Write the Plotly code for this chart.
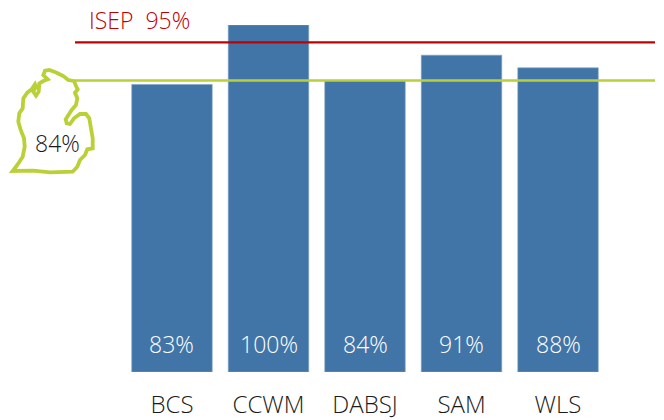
import plotly.graph_objects as go

categories = ["BCS", "CCWM", "DABSJ", "SAM", "WLS"]
values = [82.85, 100, 83.95, 91.3, 87.65]
value_labels = ["83%", "100%", "84%", "91%", "88%"]
state_value = 84
state_label = "84%"
isep_value = 95
isep_label = "ISEP  95%"

# decorative state outline, in reference pixels
michigan_outline = [
    (74, 81), (76, 86), (77.7, 89.3), (75, 92.7), (77.3, 98.3), (76, 105), (71.7, 110), (65.7, 119.3),
    (66.7, 123.3), (70, 124), (74, 118.3), (80, 114), (86, 114), (89.3, 118.3), (90.7, 126.7), (92.7, 138.3),
    (92.7, 148.3), (87.3, 149.3), (85, 155), (80, 160), (77.3, 166.7), (72.7, 171.7), (50, 172.3), (33.3, 170.7),
    (12.7, 171), (17.3, 165), (22.7, 156.7), (24.7, 146.7), (24, 138.3), (20.7, 130), (18.3, 121.7), (19.3, 113.3),
    (22.7, 108.3), (23.3, 98.3), (27.3, 92.7), (31.7, 89.3), (35, 84.3), (36, 86.7), (33.3, 91.7), (36, 95.7),
    (38.7, 91.7), (39.3, 83.3), (43.3, 81), (47.7, 79.3), (43.3, 75), (45, 70.7), (49.3, 70), (56.7, 72.7),
    (63.3, 76), (68.3, 80), (74, 81),
]

W, H = 664, 420
BAR_COLOR = "#4175A8"
RED = "#C00000"
GREEN = "#B9D036"
FONT = "Open Sans"
SIZE = 23

fig = go.Figure(go.Bar(
    x=categories, y=values, width=0.834,
    marker=dict(color=BAR_COLOR, line=dict(color="#7FA3C6", width=0.6)),
    hoverinfo="skip",
))

for cat, label in zip(categories, value_labels):
    fig.add_annotation(x=cat, y=0, yref="y", text=label, showarrow=False, yanchor="bottom", yshift=10,
                       font=dict(family=FONT, size=SIZE, color="#FFFFFF", weight=300))

x_paper = lambda px: px / W
y_paper = lambda py: (372 - py) / 347

fig.add_shape(type="line", xref="paper", yref="y", x0=x_paper(75), x1=x_paper(655), y0=isep_value, y1=isep_value,
              line=dict(color=RED, width=2.4))
fig.add_shape(type="line", xref="paper", yref="y", x0=x_paper(74), x1=x_paper(655), y0=state_value, y1=state_value,
              line=dict(color=GREEN, width=2.6))

path = "M " + " L ".join(f"{x_paper(a):.5f},{y_paper(b):.5f}" for a, b in michigan_outline)
fig.add_shape(type="path", xref="paper", yref="paper", path=path, line=dict(color=GREEN, width=3.8))

fig.add_annotation(xref="paper", yref="paper", x=x_paper(57.5), y=y_paper(143), xanchor="center", yanchor="middle",
                   text=state_label, showarrow=False,
                   font=dict(family=FONT, size=SIZE, color="#1A1A1A", weight=300))
fig.add_annotation(xref="paper", yref="paper", x=x_paper(139), y=y_paper(20), xanchor="center", yanchor="middle",
                   text=isep_label, showarrow=False,
                   font=dict(family=FONT, size=SIZE, color=RED, weight=300))

fig.update_layout(
    width=W, height=H, margin=dict(l=0, r=0, t=25, b=48, autoexpand=False),
    paper_bgcolor="white", plot_bgcolor="white", showlegend=False,
    xaxis=dict(type="category", range=[-1.782, 5.098], showgrid=False, zeroline=False, showline=False, ticks="",
               tickfont=dict(family=FONT, size=24, color="#1A1A1A", weight=300), ticklabelstandoff=16),
    yaxis=dict(range=[0, 100], visible=False),
)
fig.write_html("out.html", config=dict(displayModeBar=False),
               post_script="document.body.style.margin='0';document.documentElement.style.overflow='hidden';")
